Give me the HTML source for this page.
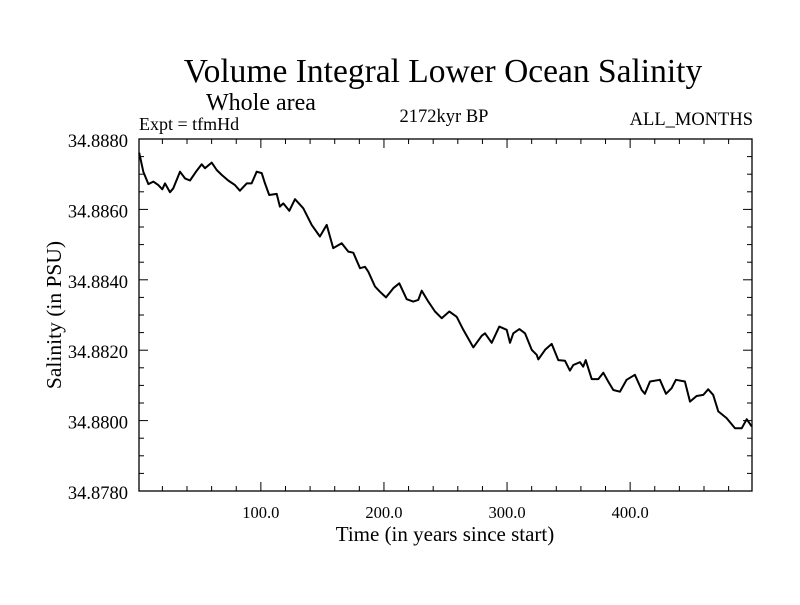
<!DOCTYPE html>
<html><head><meta charset="utf-8"><style>
body{margin:0;background:#fff}
text{font-family:"Liberation Serif",serif;fill:#000}
</style></head><body>
<svg id="chart" width="800" height="600" viewBox="0 0 800 600">
<text x="443" y="82" font-size="33.5" text-anchor="middle">Volume Integral Lower Ocean Salinity</text>
<text x="206" y="110" font-size="24">Whole area</text>
<text x="139" y="130" font-size="18">Expt = tfmHd</text>
<text x="444" y="122" font-size="18.5" text-anchor="middle">2172kyr BP</text>
<text x="753" y="125" font-size="18.5" text-anchor="end">ALL_MONTHS</text>
<text x="445" y="541" font-size="21" text-anchor="middle">Time (in years since start)</text>
<text transform="translate(61,315) rotate(-90)" font-size="21.5" text-anchor="middle">Salinity (in PSU)</text>
<g id="axes"></g>
<path id="series" fill="none" stroke="#000" stroke-width="2" stroke-linejoin="round"></path>
<rect x="139" y="139" width="613" height="352" fill="none" stroke="#000" stroke-width="1.3"></rect>
</svg>
<script>
const years=[1.2,4.5,8.6,12.6,16.7,19.9,22.1,26.2,28.9,34.3,38.4,42.4,47.9,51.9,54.6,60.1,64.1,68.2,73.5,79.0,83.0,88.5,92.5,96.6,100.7,103.4,106.8,112.9,115.5,118.2,123.1,127.7,134.5,141.3,148.0,153.5,158.8,165.7,171.0,175.1,180.5,184.6,187.3,192.7,196.8,201.7,207.6,212.5,218.5,223.8,227.9,230.7,236.0,241.5,246.9,253.1,259.1,264.5,272.6,279.4,282.1,287.5,293.7,299.7,302.4,305.1,310.0,314.6,320.0,324.1,325.4,330.9,336.3,341.6,347.1,351.1,353.8,359.3,361.9,363.9,368.8,374.1,378.2,382.2,386.3,391.7,397.1,403.9,409.4,412.0,416.1,424.2,429.1,433.7,437.2,444.5,448.6,454.0,459.4,463.4,467.5,471.6,478.4,485.2,490.6,494.7,498.8];
const salinity=[34.88761,34.88707,34.88672,34.88679,34.88669,34.88657,34.88674,34.88649,34.8866,34.88707,34.88688,34.88682,34.8871,34.88728,34.88717,34.88733,34.88712,34.88698,34.88682,34.88669,34.88653,34.88674,34.88674,34.88707,34.88703,34.88674,34.88641,34.88644,34.88608,34.88617,34.88596,34.88629,34.88603,34.88556,34.88523,34.88556,34.8849,34.88504,34.8848,34.88477,34.88433,34.88437,34.88423,34.88381,34.88366,34.8835,34.88376,34.8839,34.88345,34.88338,34.88343,34.88369,34.88338,34.8831,34.88291,34.8831,34.88295,34.88258,34.88208,34.88241,34.88248,34.88221,34.88267,34.88258,34.88221,34.88248,34.8826,34.88248,34.88201,34.88187,34.88174,34.88201,34.88218,34.88172,34.8817,34.88142,34.88158,34.88166,34.88153,34.88172,34.88118,34.88118,34.88136,34.88111,34.88087,34.88082,34.88116,34.8813,34.88087,34.88076,34.88111,34.88116,34.88076,34.88092,34.88116,34.88111,34.88054,34.8807,34.88073,34.88089,34.88073,34.88026,34.88007,34.87978,34.87978,34.88004,34.87983];
const xTickValues=[100,200,300,400];
const xTickLabels=["100.0","200.0","300.0","400.0"];
const yTickValues=[34.878,34.880,34.882,34.884,34.886,34.888];
const yTickLabels=["34.8780","34.8800","34.8820","34.8840","34.8860","34.8880"];
const L=139,R=752,T=139,B=491,X0=1,X1=499,Y0=34.878,Y1=34.888;
const sx=v=>L+(v-X0)/(X1-X0)*(R-L);
const sy=v=>B-(v-Y0)/(Y1-Y0)*(B-T);
const NS="http://www.w3.org/2000/svg";
const g=document.getElementById('axes');
function ln(x1,y1,x2,y2,name){const l=document.createElementNS(NS,'line');l.setAttribute('x1',x1);l.setAttribute('y1',y1);l.setAttribute('x2',x2);l.setAttribute('y2',y2);l.setAttribute('stroke','#000');l.setAttribute('stroke-width','1');


g.appendChild(l);}
function tx(x,y,s,anchor,size,name){const t=document.createElementNS(NS,'text');t.setAttribute('x',x);t.setAttribute('y',y);t.setAttribute('font-size',size);t.setAttribute('text-anchor',anchor);t.textContent=s;


g.appendChild(t);}
for(let v=20;v<X1;v+=20){const x=sx(v);const major=v%100===0;const len=major?9:5;
ln(x,B,x,B-len,'x-tick');ln(x,T,x,T+len,'x-tick-top');}
xTickValues.forEach((v,i)=>tx(sx(v),518,xTickLabels[i],'middle','16.5','x-tick-label'));
for(let k=0;k<=20;k++){const v=Y0+k*0.0005;const y=sy(v);const major=k%4===0;const len=major?9:5;
ln(L,y,L+len,y,'y-tick');ln(R,y,R-len,y,'y-tick-right');}
yTickValues.forEach((v,i)=>tx(128,sy(v)+8,yTickLabels[i],'end','18.5','y-tick-label'));
let d='';years.forEach((yr,i)=>{d+=(i?'L':'M')+sx(yr).toFixed(1)+','+sy(salinity[i]).toFixed(1);});
document.getElementById('series').setAttribute('d',d);
</script>
</body></html>
